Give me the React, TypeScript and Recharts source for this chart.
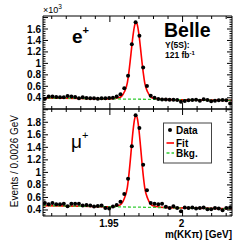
import React from "react";
import { ComposedChart, Line, Scatter, XAxis, YAxis } from "recharts";

const W = 249;
const H = 242;
const LEFT = 43;
const RIGHT = 232;
const TOP_PANEL = { top: 16, bottom: 109 };
const BOT_PANEL = { top: 109, bottom: 216 };
const FONT = "'Liberation Sans', Arial, sans-serif";
const AXIS_PX = 1; // axes need a non-zero size to be drawn

// histogram: 50 bins of 0.0026 GeV
const X_DOMAIN = [1.904, 2.034];
const BIN_START = 1.9053;
const BIN_WIDTH = 0.0026;

// events (x10^3) per bin, e+ tag
const eCounts = [
  0.385, 0.42, 0.42, 0.415, 0.41, 0.41, 0.43, 0.42, 0.415, 0.39,
  0.41, 0.395, 0.39, 0.39, 0.385, 0.39, 0.39, 0.395, 0.4, 0.42,
  0.46, 0.565, 0.786, 1.333, 1.716, 1.484, 0.93, 0.605, 0.437, 0.4,
  0.38, 0.37, 0.37, 0.365, 0.365, 0.36, 0.33, 0.345, 0.355, 0.36,
  0.365, 0.35, 0.375, 0.36, 0.34, 0.35, 0.355, 0.36, 0.355, 0.3,
];

// events (x10^3) per bin, mu+ tag
const muCounts = [
  0.51, 0.49, 0.51, 0.49, 0.49, 0.5, 0.46, 0.5, 0.5, 0.5,
  0.47, 0.48, 0.47, 0.455, 0.465, 0.47, 0.43, 0.425, 0.455, 0.48,
  0.53, 0.656, 0.9, 1.417, 1.911, 1.709, 1.124, 0.715, 0.513, 0.5,
  0.49, 0.5, 0.45, 0.43, 0.46, 0.43, 0.38, 0.44, 0.43, 0.44,
  0.425, 0.43, 0.44, 0.41, 0.41, 0.43, 0.425, 0.395, 0.43, 0.44,
];

// fit curves
const fitX = [
  1.904, 1.93, 1.95, 1.956, 1.958, 1.96, 1.962, 1.963, 1.964, 1.965,
  1.966, 1.967, 1.968, 1.969, 1.97, 1.971, 1.972, 1.973, 1.974, 1.976,
  1.978, 1.98, 1.99, 2.01, 2.034,
];
const eFit = [
  0.395, 0.387, 0.381, 0.4, 0.425, 0.505, 0.66, 0.83, 1.047, 1.284,
  1.503, 1.66, 1.715, 1.66, 1.502, 1.283, 1.045, 0.83, 0.657, 0.5,
  0.42, 0.393, 0.368, 0.362, 0.355,
];
const muFit = [
  0.47, 0.46, 0.452, 0.472, 0.5, 0.587, 0.756, 0.944, 1.179, 1.439,
  1.678, 1.849, 1.91, 1.848, 1.677, 1.437, 1.177, 0.941, 0.753, 0.582,
  0.495, 0.465, 0.437, 0.429, 0.42,
];

const bkgX = [1.904, 2.034];
const eBkg = [0.395, 0.355];
const muBkg = [0.47, 0.42];

const range = (a: number, b: number, step: number) => {
  const out: number[] = [];
  for (let v = a; v <= b + 1e-9; v += step) out.push(+v.toFixed(4));
  return out;
};

const X_TICKS = range(1.91, 2.03, 0.01);
const isMajorX = (v: number) => Math.round(v * 100) % 5 === 0;
const isMajorY = (v: number) => Math.abs(v / 0.2 - Math.round(v / 0.2)) < 1e-6;

const toPoints = (xs: number[], ys: number[]) => ys.map((y, i) => ({ x: xs[i], y }));
const binCenters = eCounts.map((_, i) => +(BIN_START + i * BIN_WIDTH).toFixed(4));

type PanelProps = {
  counts: number[];
  fit: number[];
  bkg: number[];
  yDomain: [number, number];
  yTicks: number[];
  maxLabel: number;
  box: { top: number; bottom: number };
  xLabels: boolean;
};

function Panel({ counts, fit, bkg, yDomain, yTicks, maxLabel, box, xLabels }: PanelProps) {
  const xTick = (side: "top" | "bottom") => (props: any) => {
    const v = props.payload.value;
    const x = props.x;
    const major = isMajorX(v);
    const len = major ? 6 : 3;
    const y0 = side === "top" ? box.top : box.bottom;
    const dir = side === "top" ? 1 : -1;
    return (
      <g>
        <line x1={x} x2={x} y1={y0} y2={y0 + dir * len} stroke="#000" />
        {side === "bottom" && xLabels && major && (
          <text x={x - 1} y={box.bottom + 10.5} textAnchor="middle" fontSize={10} fontWeight="bold" fontFamily={FONT} fill="#000">
            {String(+v.toFixed(2))}
          </text>
        )}
      </g>
    );
  };

  const yTick = (side: "left" | "right") => (props: any) => {
    const v = props.payload.value;
    const y = props.y;
    const major = isMajorY(v);
    const len = major ? 5 : 2.5;
    const x0 = side === "left" ? LEFT : RIGHT;
    const dir = side === "left" ? 1 : -1;
    return (
      <g>
        <line x1={x0} x2={x0 + dir * len} y1={y} y2={y} stroke="#000" />
        {side === "left" && major && v <= maxLabel + 1e-6 && (
          <text x={LEFT - 2} y={y + 3.5} textAnchor="end" fontSize={10} fontWeight="bold" fontFamily={FONT} fill="#000">
            {String(+v.toFixed(1))}
          </text>
        )}
      </g>
    );
  };

  return (
    <div style={{ position: "absolute", left: 0, top: 0 }}>
      <ComposedChart
        width={W}
        height={H}
        margin={{
          top: box.top - AXIS_PX,
          bottom: H - box.bottom - AXIS_PX,
          left: LEFT - AXIS_PX,
          right: W - RIGHT - AXIS_PX,
        }}
      >
        <XAxis xAxisId="x" dataKey="x" type="number" domain={X_DOMAIN} allowDataOverflow orientation="bottom" height={AXIS_PX}
          ticks={X_TICKS} interval={0} tick={xTick("bottom")} tickLine={false} axisLine={{ stroke: "#000" }} />
        <XAxis xAxisId="xt" dataKey="x" type="number" domain={X_DOMAIN} allowDataOverflow orientation="top" height={AXIS_PX}
          ticks={X_TICKS} interval={0} tick={xTick("top")} tickLine={false} axisLine={{ stroke: "#000" }} />
        <YAxis yAxisId="y" dataKey="y" type="number" domain={yDomain} allowDataOverflow orientation="left" width={AXIS_PX}
          ticks={yTicks} interval={0} tick={yTick("left")} tickLine={false} axisLine={{ stroke: "#000" }} />
        <YAxis yAxisId="yr" dataKey="y" type="number" domain={yDomain} allowDataOverflow orientation="right" width={AXIS_PX}
          ticks={yTicks} interval={0} tick={yTick("right")} tickLine={false} axisLine={{ stroke: "#000" }} />
        <Line xAxisId="x" yAxisId="y" data={toPoints(fitX, fit)} dataKey="y" type="monotone" stroke="#ff0000"
          strokeWidth={1.6} dot={false} isAnimationActive={false} />
        <Line xAxisId="x" yAxisId="y" data={toPoints(bkgX, bkg)} dataKey="y" type="linear" stroke="#33cc33"
          strokeWidth={1.3} strokeDasharray="3 2" dot={false} isAnimationActive={false} />
        <Scatter xAxisId="x" yAxisId="y" data={toPoints(binCenters, counts)} dataKey="y" fill="#000"
          shape={(p: any) => <circle cx={p.cx} cy={p.cy} r={2} fill="#000" />} isAnimationActive={false} />
      </ComposedChart>
    </div>
  );
}

export default function App() {
  return (
    <div style={{ position: "absolute", left: 0, top: 0, width: W, height: H, background: "#fff", fontFamily: FONT }}>
      <Panel counts={eCounts} fit={eFit} bkg={eBkg} yDomain={[0.204, 1.827]} yTicks={range(0.24, 1.8, 0.04)}
        maxLabel={1.6} box={TOP_PANEL} xLabels={false} />
      <Panel counts={muCounts} fit={muFit} bkg={muBkg} yDomain={[0.304, 2.012]} yTicks={range(0.32, 2.0, 0.04)}
        maxLabel={1.8} box={BOT_PANEL} xLabels={true} />
      <svg width={W} height={H} style={{ position: "absolute", left: 0, top: 0 }} fontFamily={FONT}>
        <text x={43} y={13} fontSize={9} fill="#000">
          ×10<tspan fontSize={6.5} dy={-4}>3</tspan>
        </text>
        <text x={72} y={43} fontSize={19} fontWeight="bold" fill="#000">
          e<tspan fontSize={11} dy={-9}>+</tspan>
        </text>
        <text x={164} y={37} fontSize={19.5} fontWeight="bold" fill="#000">Belle</text>
        <text x={165} y={47.5} fontSize={8.5} fontWeight="bold" fill="#000">Υ(5S):</text>
        <text x={165} y={58} fontSize={8.5} fontWeight="bold" fill="#000">
          121 fb<tspan fontSize={6} dy={-3.5}>-1</tspan>
        </text>
        <text x={71} y={148} fontSize={19} fill="#000">
          μ<tspan fontSize={11} dy={-9}>+</tspan>
        </text>
        <text x={18} y={115} fontSize={10} textAnchor="end" transform="rotate(-90 18 115)" fill="#000">
          Events / 0.0026 GeV
        </text>
        <text x={232} y={237.5} fontSize={10} fontWeight="bold" textAnchor="end" fill="#000">
          m(KKπ) [GeV]
        </text>
        <rect x={163.5} y={123} width={48} height={40} fill="#fff" stroke="#444" />
        <circle cx={170} cy={130} r={2} fill="#000" />
        <text x={176} y={133.5} fontSize={10} fontWeight="bold" fill="#000">Data</text>
        <line x1={166.5} x2={174} y1={143} y2={143} stroke="#ff0000" strokeWidth={1.6} />
        <text x={176} y={146.5} fontSize={10} fontWeight="bold" fill="#000">Fit</text>
        <line x1={166.5} x2={174} y1={153} y2={153} stroke="#33cc33" strokeWidth={1.3} strokeDasharray="3 2" />
        <text x={176} y={156.5} fontSize={10} fontWeight="bold" fill="#000">Bkg.</text>
      </svg>
    </div>
  );
}
